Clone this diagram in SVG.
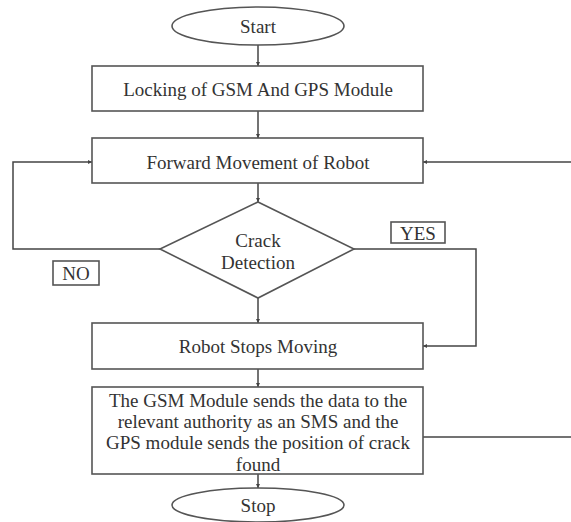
<svg xmlns="http://www.w3.org/2000/svg" width="571" height="522" viewBox="0 0 571 522">
<defs>
<style>
.shape{fill:#fff;stroke:#555;stroke-width:1.6}
.conn{fill:none;stroke:#444;stroke-width:1.5}
.t{font-family:"Liberation Serif","Times New Roman",serif;font-size:19px;fill:#333;text-anchor:middle;dominant-baseline:central}
</style>
<marker id="ah" viewBox="0 0 6 6" refX="6" refY="3" markerWidth="4" markerHeight="4" orient="auto" markerUnits="userSpaceOnUse">
<path d="M0,0 L6,3 L0,6 z" fill="#444"/>
</marker>
</defs>
<rect width="571" height="522" fill="#fff"/>
<g id="connectors">
<line class="conn" x1="258" y1="45" x2="258" y2="66" marker-end="url(#ah)"/>
<line class="conn" x1="258" y1="111" x2="258" y2="138" marker-end="url(#ah)"/>
<line class="conn" x1="258" y1="183" x2="258" y2="202" marker-end="url(#ah)"/>
<line class="conn" x1="258" y1="298" x2="258" y2="323" marker-end="url(#ah)"/>
<line class="conn" x1="258" y1="369" x2="258" y2="387" marker-end="url(#ah)"/>
<line class="conn" x1="258" y1="474" x2="258" y2="488" marker-end="url(#ah)"/>
<polyline class="conn" points="160,249 13,249 13,162 92,162" marker-end="url(#ah)"/>
<polyline class="conn" points="354,249 476,249 476,346 423,346" marker-end="url(#ah)"/>
<line class="conn" x1="571" y1="162" x2="423" y2="162" marker-end="url(#ah)"/>
<line class="conn" x1="423" y1="437" x2="571" y2="437"/>
</g>
<g id="start">
<ellipse class="shape" cx="258" cy="26" rx="86" ry="19"/>
<text class="t" x="258" y="26">Start</text>
</g>
<g id="locking">
<rect class="shape" x="92" y="66" width="331" height="45"/>
<text class="t" x="258" y="89">Locking of GSM And GPS Module</text>
</g>
<g id="forward">
<rect class="shape" x="92" y="138" width="331" height="45"/>
<text class="t" x="258" y="162">Forward Movement of Robot</text>
</g>
<g id="crack">
<polygon class="shape" points="258,202 354,249 258,298 160,249"/>
<text class="t" x="258" y="240">Crack</text>
<text class="t" x="258" y="262">Detection</text>
</g>
<g id="yes-label">
<rect class="shape" x="391" y="222" width="54" height="21"/>
<text class="t" x="418" y="233">YES</text>
</g>
<g id="no-label">
<rect class="shape" x="53" y="261" width="46" height="24"/>
<text class="t" x="76" y="273">NO</text>
</g>
<g id="stops">
<rect class="shape" x="92" y="323" width="331" height="46"/>
<text class="t" x="258" y="346">Robot Stops Moving</text>
</g>
<g id="gsm">
<rect class="shape" x="92" y="387" width="331" height="87"/>
<text class="t" x="258" y="400">The GSM Module sends the data to the</text>
<text class="t" x="258" y="421">relevant authority as an SMS and the</text>
<text class="t" x="258" y="442">GPS module sends the position of crack</text>
<text class="t" x="258" y="464">found</text>
</g>
<g id="stop">
<ellipse class="shape" cx="258" cy="505" rx="86" ry="17"/>
<text class="t" x="258" y="505">Stop</text>
</g>
</svg>
